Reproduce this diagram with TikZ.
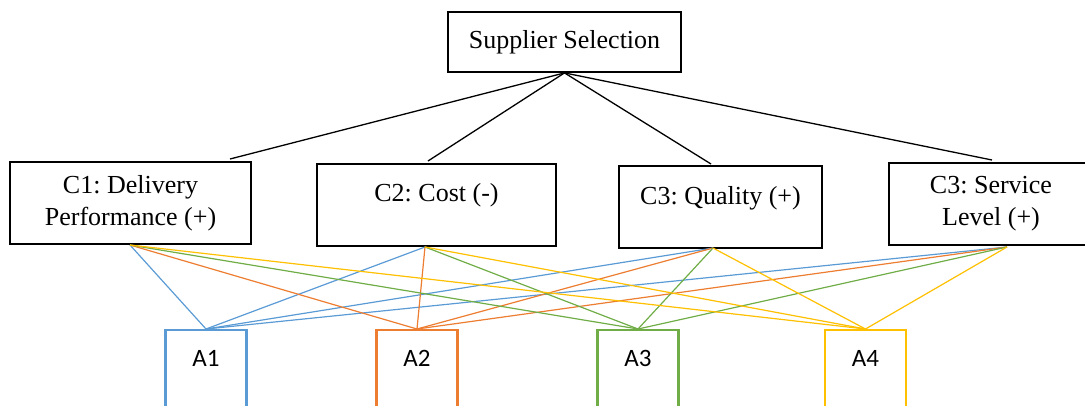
\documentclass[tikz,border=0pt]{standalone}
\usepackage{fontspec}
\setmainfont{Liberation Serif}
\newfontfamily\altfont{Carlito}
\definecolor{ablue}{HTML}{5B9BD5}
\definecolor{aorange}{HTML}{ED7D31}
\definecolor{agreen}{HTML}{70AD47}
\definecolor{ayellow}{HTML}{FFC000}
\frenchspacing

\begin{document}
\begin{tikzpicture}[x=1pt,y=-1pt,
    crit/.style={draw,line width=1.8pt,inner sep=0pt,align=center,
      minimum height=82pt,font=\fontsize{26}{32}\selectfont},
    alt/.style={draw=#1,line width=2.3pt,inner sep=0pt,anchor=north,
      minimum width=81pt,minimum height=100pt,text height=16pt,text depth=44pt,
      font=\altfont\fontsize{25}{30}\selectfont},
    tree/.style={line width=1.3pt},
    link/.style={line width=1.2pt}
  ]
  \useasboundingbox (0,0) rectangle (1085,405);
  \clip (0,0) rectangle (1085,405);

  % goal and criteria
  \node[crit,minimum width=233pt,minimum height=60pt] (goal) at (564.5,42) {Supplier Selection};
  \node[crit,minimum width=241pt] (c1) at (130.5,203) {C1: Delivery\\Performance (+)};
  \node[crit,minimum width=239pt,text depth=26pt] (c2) at (436.5,205) {C2: Cost (-)};
  \node[crit,minimum width=203pt,text depth=24pt] (c3) at (720.5,207) {C3: Quality (+)};
  \node[crit,minimum width=204pt] (c4) at (991,204) {C3: Service\\Level (+)};

  % alternatives
  \node[alt=ablue] (a1) at (206,329) {A1};
  \node[alt=aorange] (a2) at (417,329) {A2};
  \node[alt=agreen] (a3) at (638,329) {A3};
  \node[alt=ayellow] (a4) at (865.5,329) {A4};

  % ends of the connectors
  \coordinate (c1in) at (230,159);
  \coordinate (c2in) at (428,161);
  \coordinate (c3in) at (711,164);
  \coordinate (c4in) at (992,160);
  \coordinate (c1out) at (130,245);
  \coordinate (c2out) at (425,247);
  \coordinate (c3out) at (713,248);
  \coordinate (c4out) at (1007,247);

  \foreach \c in {c1in,c2in,c3in,c4in}
    \draw[tree] (goal.south) -- (\c);

  \foreach \a/\col in {a1/ablue,a2/aorange,a3/agreen,a4/ayellow}
    \foreach \c in {c1out,c2out,c3out,c4out}
      \draw[link,\col] (\c) -- (\a.north);
\end{tikzpicture}
\end{document}
